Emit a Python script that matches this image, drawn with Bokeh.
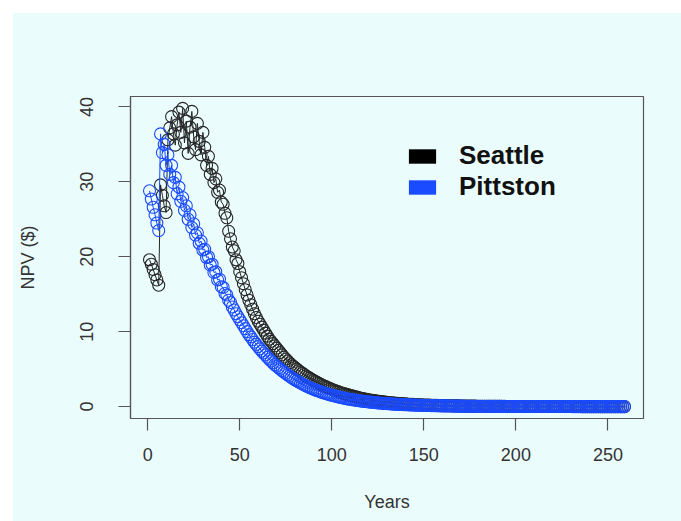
import sys
from bokeh.plotting import figure
from bokeh.models import Range1d, Legend, LegendItem, FixedTicker, Spacer
from bokeh.layouts import column, row
from bokeh.embed import file_html
from bokeh.resources import INLINE

# ---------------- data ----------------
years = list(range(1, 260))

seattle = [
    19.6, 19.0, 18.3, 17.6, 16.9, 16.2, 29.6, 28.2, 26.8, 25.9,
    35.6, 37.2, 38.7, 36.4, 34.9, 37.6, 39.3, 36.6, 39.8, 35.2,
    38.1, 33.8, 37.3, 39.4, 36.0, 34.3, 37.8, 35.4, 33.6, 36.6,
    34.6, 32.2, 33.4, 31.0, 31.8, 29.9, 30.4, 28.6, 28.9, 27.3,
    27.0, 25.8, 25.2, 23.4, 22.4, 21.3, 20.8, 19.6, 19.1, 18.0,
    17.2, 16.4, 15.6, 14.9, 14.2, 13.6, 13.0, 12.4, 11.9, 11.4,
    11.0, 10.6, 10.2, 9.8, 9.4, 9.0, 8.7, 8.4, 8.1, 7.8,
    7.5, 7.2, 6.9, 6.6, 6.35, 6.1, 5.85, 5.6, 5.4, 5.2,
    5.0, 4.8, 4.62, 4.45, 4.28, 4.1, 3.95, 3.8, 3.65, 3.5,
    3.37, 3.24, 3.11, 2.98, 2.85, 2.74, 2.63, 2.52, 2.41, 2.3,
    2.21, 2.12, 2.03, 1.94, 1.85, 1.78, 1.71, 1.64, 1.57, 1.5,
    1.43, 1.36, 1.3, 1.24, 1.18, 1.12, 1.07, 1.02, 0.97, 0.92,
    0.88, 0.84, 0.8, 0.76, 0.72, 0.69, 0.66, 0.63, 0.6, 0.57,
    0.54, 0.52, 0.49, 0.47, 0.45, 0.43, 0.41, 0.39, 0.37, 0.36,
    0.34, 0.32, 0.31, 0.29, 0.28, 0.27, 0.25, 0.24, 0.23, 0.22,
    0.21, 0.2, 0.19, 0.18, 0.17, 0.16, 0.16, 0.15, 0.14, 0.14,
    0.13, 0.12, 0.12, 0.11, 0.11, 0.1, 0.1, 0.09, 0.09, 0.08,
    0.08, 0.08, 0.07, 0.07, 0.07, 0.06, 0.06, 0.06, 0.05, 0.05,
    0.05, 0.05, 0.04, 0.04, 0.04, 0.04, 0.04, 0.03, 0.03, 0.03,
    0.03, 0.03, 0.03, 0.03, 0.02, 0.02, 0.02, 0.02, 0.02, 0.02,
    0.02, 0.02, 0.02, 0.02, 0.02, 0.01, 0.01, 0.01, 0.01, 0.01,
    0.01, 0.01, 0.01, 0.01, 0.01, 0.01, 0.01, 0.01, 0.01, 0.01,
    0.01, 0.01, 0.01, 0.01, 0.01, 0.01, 0.01, 0.01, 0.01, 0.01,
    0.01, 0.01, 0.01, 0.01, 0.01, 0.0, 0.0, 0.0, 0.0, 0.0,
    0.0, 0.0, 0.0, 0.0, 0.0, 0.0, 0.0, 0.0, 0.0, 0.0,
    0.0, 0.0, 0.0, 0.0, 0.0, 0.0, 0.0, 0.0, 0.0,
]

pittston = [
    28.8, 27.7, 26.6, 25.6, 24.5, 23.5, 36.4, 33.9, 35.0, 32.2,
    33.6, 31.0, 32.2, 29.9, 30.6, 28.4, 29.3, 27.4, 27.9, 26.2,
    26.8, 25.0, 25.6, 23.9, 24.4, 22.9, 23.2, 21.8, 22.1, 20.9,
    21.0, 19.9, 20.0, 18.9, 19.0, 17.9, 18.0, 16.9, 17.0, 16.0,
    15.9, 15.1, 14.9, 14.2, 13.9, 13.3, 12.9, 12.4, 12.0, 11.6,
    11.2, 10.8, 10.4, 10.0, 9.6, 9.3, 8.95, 8.6, 8.3, 8.0,
    7.7, 7.4, 7.15, 6.9, 6.6, 6.35, 6.1, 5.85, 5.6, 5.4,
    5.2, 5.0, 4.8, 4.6, 4.42, 4.24, 4.07, 3.9, 3.74, 3.58,
    3.43, 3.29, 3.15, 3.02, 2.89, 2.77, 2.65, 2.54, 2.43, 2.33,
    2.23, 2.14, 2.05, 1.96, 1.88, 1.8, 1.72, 1.65, 1.58, 1.51,
    1.45, 1.39, 1.33, 1.27, 1.21, 1.16, 1.11, 1.06, 1.01, 0.97,
    0.93, 0.89, 0.85, 0.81, 0.78, 0.74, 0.71, 0.68, 0.65, 0.62,
    0.59, 0.57, 0.54, 0.52, 0.5, 0.47, 0.45, 0.43, 0.41, 0.39,
    0.38, 0.36, 0.34, 0.33, 0.31, 0.3, 0.29, 0.27, 0.26, 0.25,
    0.24, 0.23, 0.22, 0.21, 0.2, 0.19, 0.18, 0.17, 0.17, 0.16,
    0.15, 0.14, 0.14, 0.13, 0.13, 0.12, 0.11, 0.11, 0.1, 0.1,
    0.09, 0.09, 0.09, 0.08, 0.08, 0.07, 0.07, 0.07, 0.06, 0.06,
    0.06, 0.06, 0.05, 0.05, 0.05, 0.05, 0.04, 0.04, 0.04, 0.04,
    0.04, 0.03, 0.03, 0.03, 0.03, 0.03, 0.03, 0.03, 0.03, 0.03,
    0.03, 0.03, 0.02, 0.02, 0.02, 0.02, 0.02, 0.02, 0.02, 0.02,
    0.02, 0.02, 0.02, 0.02, 0.02, 0.01, 0.01, 0.01, 0.01, 0.01,
    0.01, 0.01, 0.01, 0.01, 0.01, 0.01, 0.01, 0.01, 0.01, 0.01,
    0.01, 0.01, 0.01, 0.01, 0.01, 0.01, 0.01, 0.01, 0.01, 0.01,
    0.0, 0.0, 0.0, 0.0, 0.0, 0.0, 0.0, 0.0, 0.0, 0.0,
    0.0, 0.0, 0.0, 0.0, 0.0, 0.0, 0.0, 0.0, 0.0, 0.0,
    0.0, 0.0, 0.0, 0.0, 0.0, 0.0, 0.0, 0.0, 0.0,
]

series_names = ["Seattle", "Pittston"]
x_ticks = [0, 50, 100, 150, 200, 250]
y_ticks = [0, 10, 20, 30, 40]

print(len(years), len(seattle), len(pittston), file=sys.stderr)

# ---------------- styling ----------------
BG = "#ebfcfd"
INK = "#333333"
BOX = "#555555"
BLACK = "#262626"
BLUE = "#1a4bff"
FONT = "Liberation Sans"
NAN = float("nan")

p = figure(
    frame_width=513, frame_height=322,
    min_border_left=118, min_border_right=38,
    min_border_top=84, min_border_bottom=103,
    x_range=Range1d(-9.32, 269.32), y_range=Range1d(-1.59, 41.39),
    output_backend="svg", toolbar_location=None,
    background_fill_color=BG, border_fill_color=BG,
)
p.grid.visible = False
p.outline_line_color = BOX
p.outline_line_width = 1.2

p.xaxis.ticker = FixedTicker(ticks=x_ticks)
p.yaxis.ticker = FixedTicker(ticks=y_ticks)
p.xaxis.axis_label = "Years"
p.yaxis.axis_label = "NPV ($)"
for ax in (p.xaxis[0], p.yaxis[0]):
    ax.major_tick_in = 0
    ax.major_tick_out = 12
    ax.minor_tick_in = 0
    ax.minor_tick_out = 0
    ax.axis_line_color = BOX
    ax.axis_line_width = 1.2
    ax.major_tick_line_color = BOX
    ax.major_tick_line_width = 1.2
    ax.major_label_text_font = FONT
    ax.major_label_text_font_size = "18px"
    ax.major_label_text_color = INK
    ax.axis_label_text_font = FONT
    ax.axis_label_text_font_size = "18px"
    ax.axis_label_text_font_style = "normal"
    ax.axis_label_text_color = INK
p.yaxis.major_label_orientation = "vertical"
p.xaxis.major_label_standoff = 17
p.yaxis.major_label_standoff = 25
p.xaxis.axis_label_standoff = 28
p.yaxis.axis_label_standoff = 40

# Seattle (black), drawn first
p.line(years, seattle, line_color=BLACK, line_width=1.0)
p.scatter(years, seattle, marker="circle", size=12, fill_color=None,
          line_color=BLACK, line_width=1.1)
# Pittston (blue)
p.line(years, pittston, line_color=BLUE, line_width=1.0)
p.scatter(years, pittston, marker="circle", size=12, fill_color=None,
          line_color=BLUE, line_width=1.1)

# legend with filled boxes (legend-only renderers, nothing drawn in the frame)
r1 = p.quad(left=[NAN], right=[NAN], top=[NAN], bottom=[NAN],
            fill_color="#000000", line_color=None)
r2 = p.quad(left=[NAN], right=[NAN], top=[NAN], bottom=[NAN],
            fill_color=BLUE, line_color=None)
legend = Legend(
    items=[LegendItem(label=series_names[0], renderers=[r1]),
           LegendItem(label=series_names[1], renderers=[r2])],
    location=(275, 216),
    glyph_width=34, glyph_height=18,
    label_text_font=FONT, label_text_font_style="bold",
    label_text_font_size="26px", label_text_color="#111111",
    label_standoff=20, spacing=0, padding=0, margin=0,
    border_line_color=None, background_fill_alpha=0,
)
p.add_layout(legend)

layout = column(Spacer(height=12), row(Spacer(width=12), p))
open("out.html", "w").write(file_html(layout, INLINE))
